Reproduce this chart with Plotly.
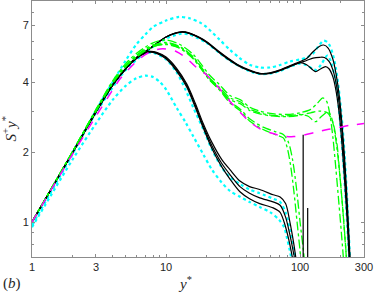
import plotly.graph_objects as go

# ---------------- data (y*, S+y*) ----------------
# group A: black curves (extend to y* ~ 240)
blkA1_x = [1, 2, 3, 4, 5, 5.7, 7, 7.6, 10, 13, 15, 18, 20, 25, 30, 35, 42, 50, 60, 70, 84, 100, 112, 125, 140, 150, 162, 176, 186, 196, 206, 216, 226, 236, 244]
blkA1_y = [1.0, 1.98, 3.0, 3.9, 4.55, 4.97, 5.4, 5.58, 6.25, 6.58, 6.5, 6.2, 5.98, 5.4, 5.0, 4.72, 4.5, 4.36, 4.38, 4.5, 4.7, 4.9, 5.05, 5.4, 5.7, 5.77, 5.6, 5.0, 4.3, 3.5, 2.6, 1.8, 1.15, 0.7, 0.5]
blkA2_x = [1, 2, 3, 4, 5, 5.7, 7, 7.6, 10, 13, 15, 18, 20, 25, 30, 35, 42, 50, 60, 70, 84, 100, 112, 125, 140, 152, 165, 176, 185, 195, 205, 215, 225, 235, 245]
blkA2_y = [1.0, 1.98, 3.0, 3.9, 4.55, 4.97, 5.4, 5.58, 6.25, 6.56, 6.48, 6.18, 5.95, 5.37, 4.97, 4.7, 4.48, 4.35, 4.37, 4.48, 4.68, 4.85, 4.95, 5.07, 5.11, 5.1, 4.9, 4.5, 4.0, 3.3, 2.5, 1.7, 1.1, 0.7, 0.5]
blkA3_x = [1, 2, 3, 4, 5, 5.7, 7, 7.6, 10, 13, 15, 18, 20, 25, 30, 35, 42, 50, 60, 70, 84, 100, 112, 125, 131, 142, 155, 165, 176, 185, 195, 205, 215, 225, 232, 240]
blkA3_y = [1.0, 1.98, 3.0, 3.9, 4.55, 4.97, 5.4, 5.58, 6.25, 6.55, 6.46, 6.16, 5.93, 5.35, 4.95, 4.68, 4.47, 4.34, 4.36, 4.47, 4.66, 4.85, 4.75, 4.5, 4.43, 4.55, 4.66, 4.55, 4.2, 3.7, 3.0, 2.2, 1.5, 1.0, 0.7, 0.5]

# group A: cyan dotted envelopes
cyA_up_x = [1, 2, 3, 4, 5, 6, 7, 8, 10, 12.5, 15, 18, 20, 25, 30, 35, 42, 50, 60, 70, 84, 100, 112, 125, 140, 150, 162, 175, 185, 195, 205, 215, 224, 232, 240]
cyA_up_y = [0.97, 1.95, 3.02, 4.0, 4.95, 5.8, 6.4, 6.9, 7.35, 7.62, 7.52, 7.2, 6.9, 6.1, 5.5, 5.1, 4.75, 4.62, 4.62, 4.72, 4.9, 5.0, 5.1, 5.3, 5.8, 6.03, 5.9, 5.3, 4.6, 3.7, 2.8, 1.95, 1.3, 0.85, 0.55]
cyA_lo_x = [1, 3, 5, 7, 10, 13, 15, 20, 25, 30, 42, 50, 60, 70, 84, 100, 112, 125, 133, 145, 160, 170, 180, 190, 200, 210, 220, 230, 240]
cyA_lo_y = [0.97, 2.95, 4.5, 5.35, 6.15, 6.45, 6.4, 5.9, 5.33, 4.93, 4.45, 4.33, 4.35, 4.45, 4.65, 4.8, 4.72, 4.55, 4.5, 4.8, 5.2, 4.9, 4.3, 3.5, 2.6, 1.8, 1.2, 0.78, 0.5]

# group B: black curves (decay to ~0.7 near y* ~ 100)
blkB1_x = [1, 2, 3, 4, 5, 6, 7, 7.6, 8.5, 10, 12, 14.3, 16.5, 18.9, 22, 26, 30, 35.6, 42, 50, 63, 71, 78, 84, 90, 96, 100]
blkB1_y = [1.0, 1.98, 2.97, 3.88, 4.58, 5.08, 5.36, 5.42, 5.37, 5.12, 4.58, 3.92, 3.25, 2.66, 2.2, 1.86, 1.68, 1.5, 1.42, 1.38, 1.31, 1.28, 1.2, 1.0, 0.8, 0.62, 0.55]
blkB2_x = [1, 2, 3, 4, 5, 6, 7, 7.6, 8.5, 10, 12, 14.3, 16.5, 18.9, 22, 26, 30, 35.6, 42, 50, 63, 71, 78, 84, 90, 95]
blkB2_y = [1.0, 1.98, 2.97, 3.88, 4.57, 5.06, 5.34, 5.4, 5.34, 5.08, 4.52, 3.86, 3.18, 2.6, 2.13, 1.79, 1.6, 1.42, 1.33, 1.27, 1.22, 1.18, 1.05, 0.88, 0.72, 0.6]
blkB3_x = [1, 2, 3, 4, 5, 6, 7, 7.6, 8.5, 10, 12, 14.3, 16.5, 18.9, 22, 26, 30, 35.6, 42, 50, 63, 71, 76, 82, 87, 92]
blkB3_y = [1.0, 1.98, 2.97, 3.87, 4.56, 5.04, 5.32, 5.38, 5.31, 5.04, 4.46, 3.8, 3.12, 2.55, 2.07, 1.73, 1.53, 1.35, 1.26, 1.2, 1.15, 1.1, 1.0, 0.85, 0.72, 0.6]

# group B: cyan dotted envelopes
cyB_up_x = [1, 3, 5, 7, 8, 10, 12, 14, 16, 19, 22, 26, 30, 36, 42, 50, 63, 71, 78, 84, 90, 95, 100]
cyB_up_y = [0.97, 2.95, 4.55, 5.3, 5.35, 5.0, 4.4, 3.7, 3.1, 2.5, 2.05, 1.72, 1.56, 1.45, 1.38, 1.33, 1.26, 1.22, 1.1, 0.93, 0.77, 0.63, 0.55]
cyB_lo_x = [1, 2, 3, 4, 5, 6, 7, 8, 9, 10, 12, 14, 16, 19, 22, 26, 30, 36, 42, 50, 60, 70, 76, 80, 84, 88, 92]
cyB_lo_y = [0.95, 1.85, 2.65, 3.35, 3.85, 4.15, 4.26, 4.2, 4.0, 3.72, 3.1, 2.68, 2.33, 1.95, 1.68, 1.48, 1.36, 1.28, 1.22, 1.16, 1.1, 1.02, 0.95, 0.85, 0.75, 0.65, 0.55]

# green dash-dot curves
grA1_x = [1, 2, 3, 4, 5, 6, 7, 8, 10, 12.7, 16, 21, 25, 30, 36, 42, 50, 60, 80, 100, 120, 135, 148, 158, 167, 176, 185, 195, 205, 215]
grA1_y = [1.0, 2.0, 3.05, 4.05, 4.8, 5.3, 5.65, 5.9, 6.07, 5.8, 5.25, 4.3, 3.9, 3.5, 3.35, 3.12, 3.0, 2.93, 2.9, 2.95, 3.05, 3.25, 3.42, 3.3, 2.9, 2.3, 1.7, 1.2, 0.85, 0.6]
grA2_x = [1, 2, 3, 4, 5, 6, 7, 8, 10, 12.7, 16, 21, 25, 30, 36, 42, 50, 60, 80, 100, 115, 130, 145, 162, 172, 182, 192, 202, 212, 222, 230]
grA2_y = [1.0, 2.0, 3.03, 4.0, 4.72, 5.2, 5.55, 5.78, 5.92, 5.68, 5.12, 4.18, 3.8, 3.42, 3.28, 3.06, 2.95, 2.88, 2.86, 2.9, 2.85, 2.7, 2.85, 2.98, 2.8, 2.4, 1.9, 1.4, 1.0, 0.7, 0.5]
grA3_x = [1, 2, 3, 4, 5, 6, 7, 8, 10, 12.7, 16, 21, 25, 30, 36, 42, 50, 60, 80, 100, 120, 140, 160, 175, 188, 198, 208, 218, 228]
grA3_y = [1.0, 2.0, 3.0, 3.96, 4.66, 5.12, 5.45, 5.68, 5.8, 5.58, 5.02, 4.1, 3.72, 3.36, 3.22, 3.02, 2.92, 2.86, 2.84, 2.88, 2.95, 3.0, 2.95, 2.7, 2.2, 1.6, 1.15, 0.8, 0.55]
grB1_x = [1, 2, 3, 4, 5, 6, 7, 8, 10, 12.7, 16, 21, 25, 30, 36, 42, 53, 65, 75, 80, 85, 90, 95, 100, 105]
grB1_y = [1.0, 2.0, 3.0, 3.95, 4.65, 5.12, 5.45, 5.68, 5.82, 5.6, 5.05, 4.1, 3.7, 3.25, 3.0, 2.72, 2.5, 2.38, 2.3, 2.1, 1.75, 1.35, 1.0, 0.75, 0.55]
grB2_x = [1, 2, 3, 4, 5, 6, 7, 8, 10, 12.7, 16, 21, 25, 30, 36, 42, 53, 65, 75, 82, 88, 94, 100, 106, 112]
grB2_y = [1.0, 2.0, 3.02, 3.98, 4.7, 5.18, 5.5, 5.72, 5.88, 5.65, 5.1, 4.15, 3.75, 3.3, 3.05, 2.78, 2.56, 2.45, 2.38, 2.2, 1.85, 1.4, 1.0, 0.75, 0.55]

# magenta dashed reference
mag_x = [1, 2, 3, 4, 4.5, 5, 6, 7, 8, 9, 10, 12, 14, 17, 20, 25, 30, 36, 42, 50, 60, 75, 90, 105, 130, 160, 189, 230, 300]
mag_y = [1.0, 1.95, 2.85, 3.7, 4.1, 4.4, 4.9, 5.25, 5.45, 5.55, 5.55, 5.4, 5.1, 4.6, 4.3, 3.75, 3.3, 2.95, 2.7, 2.52, 2.42, 2.34, 2.33, 2.36, 2.43, 2.5, 2.54, 2.6, 2.65]

# isolated black spikes
spk1_x = [105.5, 105.5]
spk1_y = [0.5, 2.37]
spk2_x = [114, 114]
spk2_y = [0.5, 1.15]

# axis ticks
x_major = [1, 3, 10, 100, 300]
x_minor = [2, 4, 5, 6, 7, 8, 9, 20, 30, 40, 50, 60, 70, 80, 90, 200]
y_major = [1, 2, 4, 7]
y_minor = [0.8, 0.9, 3, 5, 6, 8]

# ---------------- figure ----------------
fig = go.Figure()

CYAN = "#00FFFF"
GREEN = "#00FF00"
MAG = "#FF00FF"


def add(x, y, color, width, dash):
    fig.add_trace(go.Scatter(x=x, y=y, mode="lines",
                             line=dict(color=color, width=width, dash=dash,
                                       shape="spline", smoothing=0.8),
                             showlegend=False, hoverinfo="skip"))


for xs, ys in [(cyA_up_x, cyA_up_y), (cyA_lo_x, cyA_lo_y),
               (cyB_up_x, cyB_up_y), (cyB_lo_x, cyB_lo_y)]:
    add(xs, ys, CYAN, 2.2, "dot")

for xs, ys in [(blkA1_x, blkA1_y), (blkA2_x, blkA2_y), (blkA3_x, blkA3_y),
               (blkB1_x, blkB1_y), (blkB2_x, blkB2_y), (blkB3_x, blkB3_y)]:
    add(xs, ys, "black", 1.2, "solid")

for xs, ys in [(grA1_x, grA1_y), (grA2_x, grA2_y), (grA3_x, grA3_y),
               (grB1_x, grB1_y), (grB2_x, grB2_y)]:
    add(xs, ys, GREEN, 1.3, "dashdot")

add(mag_x, mag_y, MAG, 1.5, "dash")

for xs, ys in [(spk1_x, spk1_y), (spk2_x, spk2_y)]:
    fig.add_trace(go.Scatter(x=xs, y=ys, mode="lines",
                             line=dict(color="black", width=1.2),
                             showlegend=False, hoverinfo="skip"))

AX_COLOR = "#8c8c8c"
axis_common = dict(type="log", showgrid=False, zeroline=False, automargin=False,
                   showline=True, linecolor=AX_COLOR, linewidth=1,
                   mirror="ticks", ticks="inside", ticklen=3,
                   tickcolor=AX_COLOR, tickwidth=1,
                   tickfont=dict(family="Liberation Sans, Arial", size=11, color="#262626"))

fig.update_xaxes(range=[0, 2.4771], tickmode="array", tickvals=x_major,
                 ticktext=[str(v) for v in x_major],
                 minor=dict(tickmode="array", tickvals=x_minor, ticks="inside",
                            ticklen=2, tickcolor=AX_COLOR, tickwidth=1, showgrid=False),
                 **axis_common)
fig.update_yaxes(range=[-0.1505, 0.9505], tickmode="array", tickvals=y_major,
                 ticktext=[str(v) for v in y_major],
                 minor=dict(tickmode="array", tickvals=y_minor, ticks="inside",
                            ticklen=2, tickcolor=AX_COLOR, tickwidth=1, showgrid=False),
                 **axis_common)

serif = "Liberation Serif, DejaVu Serif, serif"
fig.update_layout(
    width=374, height=297,
    margin=dict(l=32, r=10, t=1, b=40, autoexpand=False),
    paper_bgcolor="white", plot_bgcolor="white",
    hovermode=False,
    annotations=[
        dict(text="<i>y</i><sup>*</sup>", xref="paper", yref="paper",
             x=0.461, y=-0.10, xanchor="center", yanchor="middle",
             showarrow=False, font=dict(family=serif, size=15, color="#262626")),
        dict(text="<i>S</i><sup>+</sup><i>y</i><sup>*</sup>", xref="paper", yref="paper",
             x=-0.068, y=0.50, xanchor="center", yanchor="middle", textangle=-90,
             showarrow=False, font=dict(family=serif, size=15, color="#262626")),
        dict(text="(<i>b</i>)", xref="paper", yref="paper",
             x=-0.06, y=-0.105, xanchor="center", yanchor="middle",
             showarrow=False, font=dict(family=serif, size=15, color="#262626")),
    ],
)

fig.write_html("out.html", config={"displayModeBar": False},
               post_script="document.body.style.margin='0';")
